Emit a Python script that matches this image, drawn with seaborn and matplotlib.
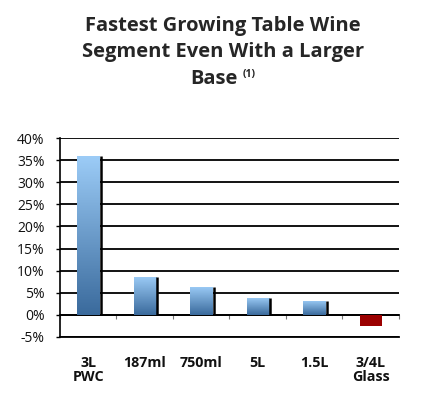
import numpy as np
import pandas as pd
import matplotlib
matplotlib.use("Agg")
import matplotlib.pyplot as plt
import seaborn as sns
from matplotlib.colors import LinearSegmentedColormap

categories = ["3L\nPWC", "187ml", "750ml", "5L", "1.5L", "3/4L\nGlass"]
growth = [35.9, 8.6, 6.4, 3.9, 3.2, -2.6]
yticks = [-5, 0, 5, 10, 15, 20, 25, 30, 35, 40]
title_lines = ["Fastest Growing Table Wine", "Segment Even With a Larger", "Base"]
footnote = "(1)"

sns.set_style("white")
plt.rcParams["font.family"] = ["Open Sans", "DejaVu Sans"]

df = pd.DataFrame({"cat": categories, "val": growth})

fig = plt.figure(figsize=(4.25, 4.07), dpi=100)
ax = fig.add_axes([60/425, 1-337/407, 339/425, 199/407])

sns.barplot(data=df, x="cat", y="val", ax=ax, width=0.39, color="#5b8fc7",
            edgecolor="none", linewidth=0)

grad = LinearSegmentedColormap.from_list("g", ["#3a6a9c", "#9cccf7"])
gimg = np.linspace(0, 1, 256).reshape(-1, 1)
for p, v in zip(ax.patches, growth):
    x0, y0 = p.get_x(), p.get_y()
    w, h = p.get_width(), p.get_height()
    if v >= 0:
        p.set_facecolor("none")
        im = ax.imshow(gimg, cmap=grad, origin="lower", aspect="auto",
                       extent=[x0, x0 + w, y0, y0 + h], zorder=3,
                       interpolation="bilinear")
        im.set_clip_path(p)
        ax.vlines(x0 + w + 0.025, 0, v, color="black", lw=1.8, zorder=3)
    else:
        p.set_facecolor("#9b0000")
        p.set_zorder(3)

ax.set_xlim(-0.5, len(categories) - 0.5)
ax.set_ylim(-5, 40)
ax.set_yticks(yticks)
ax.set_yticklabels([f"{t}%" for t in yticks], fontsize=10, color="#111111")
ax.yaxis.grid(True, color="black", lw=1.3)
ax.set_axisbelow(True)
for s in ["top", "right"]:
    ax.spines[s].set_visible(False)
ax.spines["left"].set_color("black")
ax.spines["left"].set_linewidth(1.2)
ax.spines["bottom"].set_color("black")
ax.spines["bottom"].set_linewidth(1.3)
ax.tick_params(axis="y", left=True, length=3, width=1, pad=8, color="black")
ax.tick_params(axis="x", bottom=False, pad=10)
ax.set_xlabel("")
ax.set_ylabel("")
for lab in ax.get_xticklabels():
    lab.set_fontweight("bold")
    lab.set_fontsize(10.3)
    lab.set_color("#111111")
    lab.set_verticalalignment("top")
    lab.set_multialignment("center")
    lab.set_linespacing(1.05)

sec = ax.secondary_xaxis(5/45)
sec.set_xticks(np.arange(len(categories) + 1) - 0.5)
sec.set_xticklabels([])
sec.tick_params(direction="out", length=3, width=0.8, color="#777777")
sec.spines["bottom"].set_color("black")
sec.spines["bottom"].set_linewidth(1.3)

cx = 0.525
fig.text(cx, 1 - 26/407, title_lines[0], ha="center", va="center",
         fontsize=14.5, fontweight="bold")
fig.text(cx, 1 - 52/407, title_lines[1], ha="center", va="center",
         fontsize=14.5, fontweight="bold")
fig.text(214/425, 1 - 79/407, title_lines[2], ha="center", va="center",
         fontsize=14.5, fontweight="bold")
fig.text(243/425, 1 - 75/407, footnote, ha="left", va="center",
         fontsize=7.5, fontweight="bold")

fig.savefig("out.png", dpi=100, facecolor="white")
